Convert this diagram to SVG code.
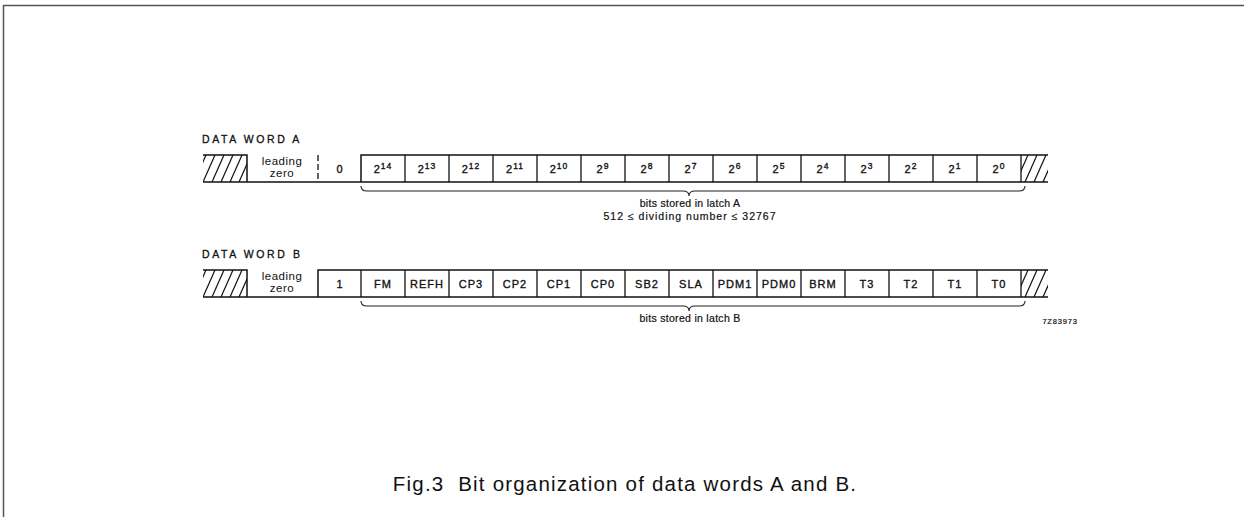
<svg xmlns="http://www.w3.org/2000/svg" width="1244" height="517" viewBox="0 0 1244 517">
<style>
.ln{stroke:#111;stroke-width:1.5;fill:none}
.dv{stroke:#111;stroke-width:1.3;fill:none}
.ht{stroke:#111;stroke-width:1.2}
.br{stroke:#222;stroke-width:1.1;fill:none}
.t{font-family:"Liberation Sans",Arial,sans-serif;font-size:11px;fill:#111;stroke:#111;stroke-width:0.35;text-anchor:middle;letter-spacing:1px}
.s{font-family:"Liberation Sans",Arial,sans-serif;font-size:10.5px;fill:#111;stroke:#111;stroke-width:0.2;text-anchor:middle;letter-spacing:0.3px}
.lz{font-family:"Liberation Sans",Arial,sans-serif;font-size:11.5px;fill:#111;text-anchor:middle;letter-spacing:0.5px}
.lab{font-family:"Liberation Sans",Arial,sans-serif;font-size:10.5px;fill:#111;stroke:#111;stroke-width:0.3;letter-spacing:2.6px}
.sup{font-size:8.5px}
.cap{font-family:"Liberation Sans",Arial,sans-serif;font-size:20.5px;fill:#111;text-anchor:middle;letter-spacing:1.2px}
</style>
<defs>
<clipPath id="hA1"><rect x="203" y="155" width="44" height="27"/></clipPath>
<clipPath id="hA2"><rect x="1021" y="155" width="27" height="27"/></clipPath>
<clipPath id="hB1"><rect x="203" y="270" width="44" height="27"/></clipPath>
<clipPath id="hB2"><rect x="1021" y="270" width="27" height="27"/></clipPath>
</defs>
<g id="frame">
<line x1="3" y1="5.5" x2="1244" y2="5.5" stroke="#555" stroke-width="1.5"/>
<line x1="3.5" y1="5" x2="3.5" y2="517" stroke="#555" stroke-width="1.5"/>
</g>
<g id="wordA">
<text class="lab" x="202" y="143">DATA WORD A</text>
<g clip-path="url(#hA1)" class="ht">
<line x1="194" y1="182" x2="206" y2="155"/><line x1="203" y1="182" x2="215" y2="155"/><line x1="212" y1="182" x2="224" y2="155"/><line x1="221" y1="182" x2="233" y2="155"/><line x1="230" y1="182" x2="242" y2="155"/><line x1="239" y1="182" x2="251" y2="155"/>
</g>
<g clip-path="url(#hA2)" class="ht">
<line x1="1016" y1="182" x2="1028" y2="155"/><line x1="1025" y1="182" x2="1037" y2="155"/><line x1="1034" y1="182" x2="1046" y2="155"/><line x1="1043" y1="182" x2="1055" y2="155"/>
</g>
<path class="ln" d="M203,155 H247 V182 M203,182 H1048 M361,182 V155 H1048"/>
<line class="dv" x1="318" y1="155" x2="318" y2="182" stroke-dasharray="6,3"/>
<path class="dv" d="M405,155V182M449,155V182M493,155V182M537,155V182M581,155V182M625,155V182M669,155V182M713,155V182M757,155V182M801,155V182M845,155V182M889,155V182M933,155V182M977,155V182M1021,155V182"/>
<text class="lz" x="282" y="165">leading</text>
<text class="lz" x="282" y="177">zero</text>
<text class="t" x="340" y="173">0</text>
<text class="t" x="383" y="173">2<tspan class="sup" dy="-4">14</tspan></text>
<text class="t" x="427" y="173">2<tspan class="sup" dy="-4">13</tspan></text>
<text class="t" x="471" y="173">2<tspan class="sup" dy="-4">12</tspan></text>
<text class="t" x="515" y="173">2<tspan class="sup" dy="-4">11</tspan></text>
<text class="t" x="559" y="173">2<tspan class="sup" dy="-4">10</tspan></text>
<text class="t" x="603" y="173">2<tspan class="sup" dy="-4">9</tspan></text>
<text class="t" x="647" y="173">2<tspan class="sup" dy="-4">8</tspan></text>
<text class="t" x="691" y="173">2<tspan class="sup" dy="-4">7</tspan></text>
<text class="t" x="735" y="173">2<tspan class="sup" dy="-4">6</tspan></text>
<text class="t" x="779" y="173">2<tspan class="sup" dy="-4">5</tspan></text>
<text class="t" x="823" y="173">2<tspan class="sup" dy="-4">4</tspan></text>
<text class="t" x="867" y="173">2<tspan class="sup" dy="-4">3</tspan></text>
<text class="t" x="911" y="173">2<tspan class="sup" dy="-4">2</tspan></text>
<text class="t" x="955" y="173">2<tspan class="sup" dy="-4">1</tspan></text>
<text class="t" x="999" y="173">2<tspan class="sup" dy="-4">0</tspan></text>
<path class="br" d="M361,186 Q361,191 367,191 L683,191 Q689,191 689,196 Q689,191 695,191 L1019,191 Q1025,191 1025,186"/>
<text class="s" x="690" y="207">bits stored in latch A</text>
<text class="s" x="690" y="220" style="letter-spacing:1px">512 ≤ dividing number ≤ 32767</text>
</g>
<g id="wordB">
<text class="lab" x="202" y="258">DATA WORD B</text>
<g clip-path="url(#hB1)" class="ht">
<line x1="194" y1="297" x2="206" y2="270"/><line x1="203" y1="297" x2="215" y2="270"/><line x1="212" y1="297" x2="224" y2="270"/><line x1="221" y1="297" x2="233" y2="270"/><line x1="230" y1="297" x2="242" y2="270"/><line x1="239" y1="297" x2="251" y2="270"/>
</g>
<g clip-path="url(#hB2)" class="ht">
<line x1="1016" y1="297" x2="1028" y2="270"/><line x1="1025" y1="297" x2="1037" y2="270"/><line x1="1034" y1="297" x2="1046" y2="270"/><line x1="1043" y1="297" x2="1055" y2="270"/>
</g>
<path class="ln" d="M203,270 H247 V297 M203,297 H1048 M318,297 V270 H1048"/>
<path class="dv" d="M361,270V297M405,270V297M449,270V297M493,270V297M537,270V297M581,270V297M625,270V297M669,270V297M713,270V297M757,270V297M801,270V297M845,270V297M889,270V297M933,270V297M977,270V297M1021,270V297"/>
<text class="lz" x="282" y="280">leading</text>
<text class="lz" x="282" y="292">zero</text>
<text class="t" x="340" y="288">1</text>
<text class="t" x="383" y="288">FM</text>
<text class="t" x="427" y="288">REFH</text>
<text class="t" x="471" y="288">CP3</text>
<text class="t" x="515" y="288">CP2</text>
<text class="t" x="559" y="288">CP1</text>
<text class="t" x="603" y="288">CP0</text>
<text class="t" x="647" y="288">SB2</text>
<text class="t" x="691" y="288">SLA</text>
<text class="t" x="735" y="288">PDM1</text>
<text class="t" x="779" y="288">PDM0</text>
<text class="t" x="823" y="288">BRM</text>
<text class="t" x="867" y="288">T3</text>
<text class="t" x="911" y="288">T2</text>
<text class="t" x="955" y="288">T1</text>
<text class="t" x="999" y="288">T0</text>
<path class="br" d="M361,301 Q361,306 367,306 L683,306 Q689,306 689,311 Q689,306 695,306 L1019,306 Q1025,306 1025,301"/>
<text class="s" x="690" y="322">bits stored in latch B</text>
<text class="s" x="1060" y="324" style="font-size:7.5px;letter-spacing:0.8px">7Z83973</text>
</g>
<text class="cap" x="625" y="491" xml:space="preserve">Fig.3  Bit organization of data words A and B.</text>
</svg>
